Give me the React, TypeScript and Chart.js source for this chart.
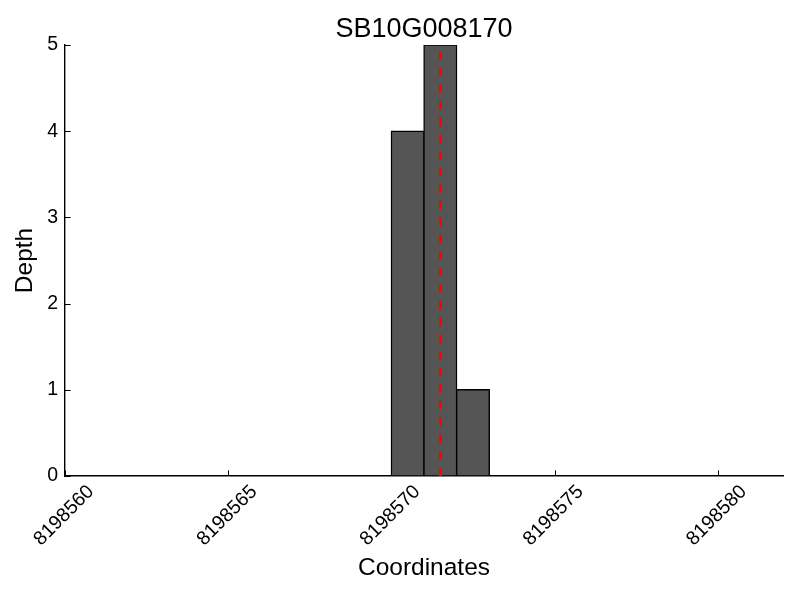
import { useEffect, useRef } from "react";
import { Chart, registerables } from "chart.js";

Chart.register(...registerables);

const chartTitle = "SB10G008170";
const xAxisLabel = "Coordinates";
const yAxisLabel = "Depth";
const binStarts = [8198570, 8198571, 8198572];
const depths = [4, 5, 1];
const binWidth = 1;
const markerPosition = 8198571.5;
const xTicks = [8198560, 8198565, 8198570, 8198575, 8198580];
const yTicks = [0, 1, 2, 3, 4, 5];
const xMin = 8198560;
const xMax = 8198582;
const yMin = 0;
const yMax = 5;

const FONT = "'Liberation Sans', Arial, Helvetica, sans-serif";

const tickPlugin = {
  id: "customTicks",
  afterDraw(chart: any) {
    const { ctx, chartArea } = chart;
    const xs = chart.scales.x;
    const ys = chart.scales.y;
    ctx.save();
    ctx.strokeStyle = "#000";
    ctx.lineWidth = 1;
    const tl = 5.6;
    for (const v of xTicks) {
      const px = Math.round(xs.getPixelForValue(v)) + 0.5;
      ctx.beginPath();
      ctx.moveTo(px, chartArea.bottom);
      ctx.lineTo(px, chartArea.bottom - tl);
      ctx.stroke();
    }
    for (const v of yTicks) {
      const py = Math.round(ys.getPixelForValue(v)) + 0.5;
      ctx.beginPath();
      ctx.moveTo(chartArea.left, py);
      ctx.lineTo(chartArea.left + tl, py);
      ctx.stroke();
    }
    ctx.fillStyle = "#000";
    ctx.font = `19.5px ${FONT}`;
    ctx.textAlign = "center";
    ctx.textBaseline = "middle";
    for (const v of xTicks) {
      const px = xs.getPixelForValue(v);
      ctx.save();
      ctx.translate(px - 1, chartArea.bottom + 39.5);
      ctx.rotate(-Math.PI / 4);
      ctx.fillText(String(v), 0, 0);
      ctx.restore();
    }
    ctx.restore();
  },
};

export default function App() {
  const ref = useRef<HTMLCanvasElement | null>(null);
  useEffect(() => {
    if (!ref.current) return;
    Chart.defaults.font.family = FONT;
    Chart.defaults.color = "#000";
    const chart = new Chart(ref.current, {
      type: "bar",
      data: {
        datasets: [
          {
            type: "line",
            data: [
              { x: markerPosition, y: yMin },
              { x: markerPosition, y: yMax },
            ],
            borderColor: "#ff0000",
            borderWidth: 2.8,
            borderDash: [8.33, 8.33],
            pointRadius: 0,
            fill: false,
            order: 0,
          } as any,
          {
            type: "bar",
            data: binStarts.map((s, i) => ({ x: s + binWidth / 2, y: depths[i] })),
            backgroundColor: "#555555",
            borderColor: "#000000",
            borderWidth: 1.4,
            borderSkipped: false,
            inflateAmount: 0.7,
            barPercentage: 1,
            categoryPercentage: 1,
            order: 1,
          } as any,
        ],
      },
      options: {
        responsive: false,
        animation: false,
        layout: { padding: { left: 0, right: 17, top: 0, bottom: 0 } },
        plugins: {
          legend: { display: false },
          tooltip: { enabled: false },
          title: {
            display: true,
            text: chartTitle,
            fullSize: false,
            color: "#000",
            font: { size: 27, weight: "normal", family: FONT, lineHeight: "31px" },
            padding: { top: 14, bottom: 0 },
          },
        },
        scales: {
          x: {
            type: "linear",
            min: xMin,
            max: xMax,
            offset: false,
            grid: { display: false, drawTicks: false },
            border: { display: true, color: "#000", width: 1.4 },
            ticks: { display: false, stepSize: 5 },
            title: {
              display: true,
              text: xAxisLabel,
              color: "#000",
              font: { size: 24.5, family: FONT },
              padding: { top: 0, bottom: 17 },
            },
            afterFit(scale: any) {
              scale.height = 124;
            },
          },
          y: {
            type: "linear",
            min: yMin,
            max: yMax,
            grid: { display: false, drawTicks: false },
            border: { display: true, color: "#000", width: 1.4 },
            ticks: {
              stepSize: 1,
              padding: 7,
              color: "#000",
              font: { size: 19.5, family: FONT },
            },
            title: {
              display: true,
              text: yAxisLabel,
              color: "#000",
              font: { size: 24.5, family: FONT },
              padding: { top: 10.5, bottom: 0 },
            },
            afterFit(scale: any) {
              scale.width = 65;
            },
          },
        },
      } as any,
      plugins: [tickPlugin],
    });
    return () => chart.destroy();
  }, []);
  return (
    <div style={{ position: "absolute", left: 0, top: 0, width: 800, height: 600 }}>
      <canvas ref={ref} width={800} height={600} style={{ display: "block" }} />
    </div>
  );
}
